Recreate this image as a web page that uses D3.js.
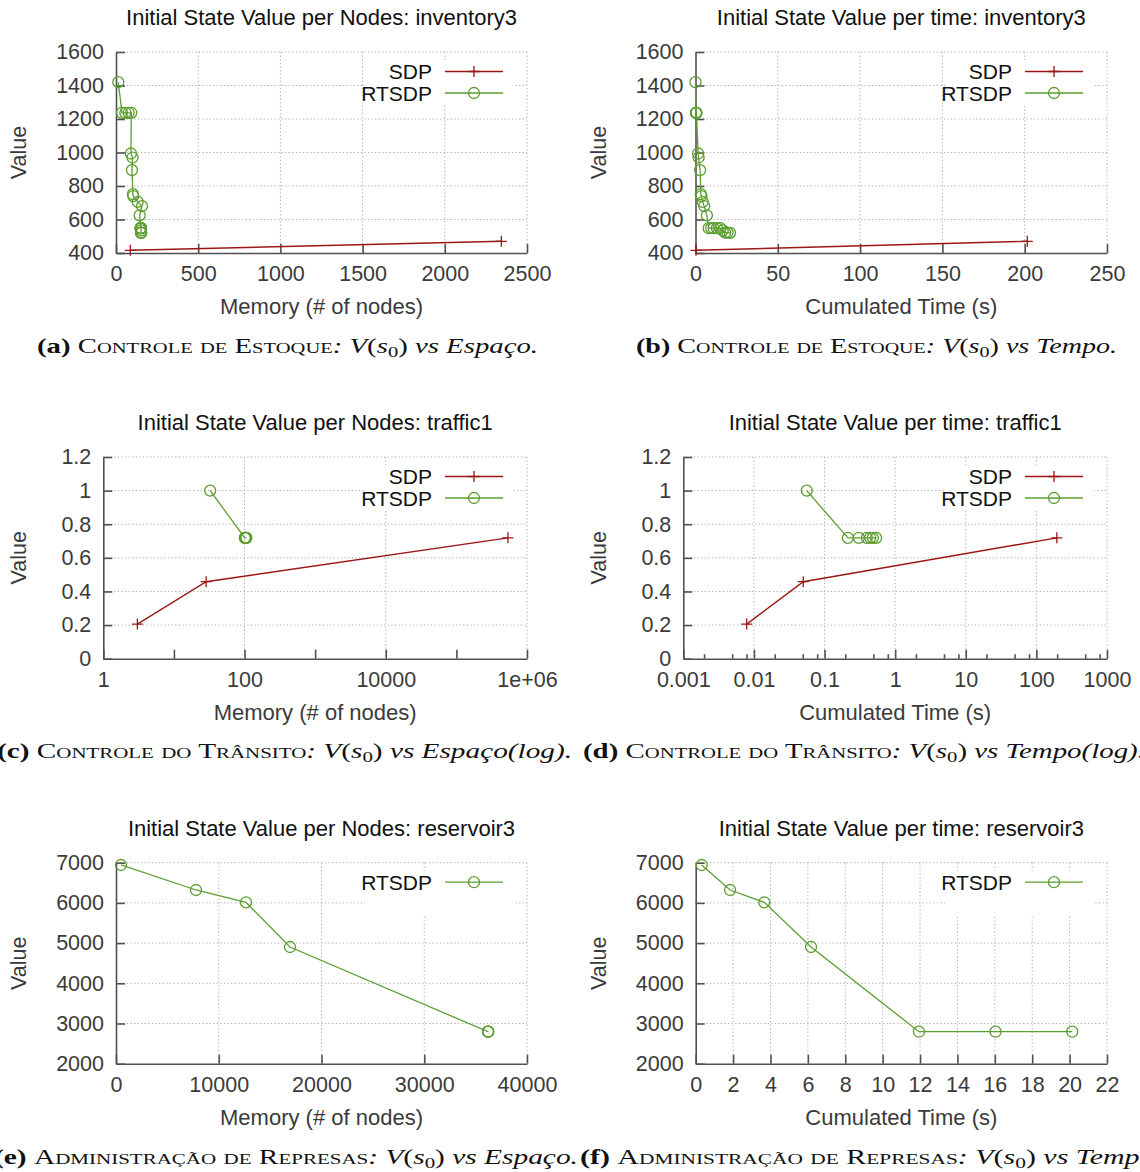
<!DOCTYPE html>
<html>
<head>
<meta charset="utf-8">
<script src="https://cdnjs.cloudflare.com/ajax/libs/d3/7.8.5/d3.min.js"></script>
<style>
  body { margin: 0; background: #fff; }
  svg text { font-family: "Liberation Sans", Arial, Helvetica, sans-serif; }
  .grid { stroke: #a8a8a8; stroke-width: 1; stroke-dasharray: 1.2,2.4; }
  .axis path, .axis line { stroke: #505050; stroke-width: 1.6; }
  .axis text { fill: #3a3a3a; font-size: 21.5px; font-family: "Liberation Sans", Arial, sans-serif; }
  .cap { font-family: "Liberation Serif", "Times New Roman", serif; font-size: 21px; fill: #111; }
</style>
</head>
<body>
<div id="fig"></div>
<script>
// ---- inventory3 ----
var invRtsdpValue = [1420, 1237, 1237, 1237, 1237, 994, 970, 895, 751, 740, 705, 680, 625, 548, 548, 548, 548, 548, 535, 522, 522, 520];
var invRtsdpNodes = [14, 36, 57, 77, 93, 91, 101, 97, 103, 105, 132, 158, 144, 150, 150, 151, 151, 152, 152, 152, 153, 153];
var invRtsdpTime  = [0, 0.3, 0.4, 0.5, 0.6, 1.6, 1.9, 2.8, 3.2, 3.6, 4.4, 5.3, 6.9, 8.0, 9.5, 11, 13, 15, 16.5, 18, 19.5, 21];
var invSdpValue = [416, 470];
var invSdpNodes = [87, 2344];
var invSdpTime  = [0.3, 201.6];

// ---- traffic1 ----
var trafRtsdpValue = [1.0, 0.719, 0.719, 0.719, 0.719, 0.719, 0.719];
var trafRtsdpNodes = [32.6, 101, 102, 103, 104, 105, 106];
var trafRtsdpTime  = [0.056, 0.214, 0.306, 0.397, 0.443, 0.483, 0.538];
var trafSdpValue = [0.206, 0.458, 0.719];
var trafSdpNodes = [3.04, 28.6, 537000];
var trafSdpTime  = [0.0079, 0.050, 195];

// ---- reservoir3 ----
var resRtsdpValue = [6943, 6321, 6015, 4903, 2796, 2796, 2796];
var resRtsdpNodes = [487, 7786, 12652, 16934, 36204, 36220, 36235];
var resRtsdpTime  = [0.32, 1.84, 3.67, 6.17, 11.94, 16.04, 20.14];

// ---- ticks ----
var invValueTicks = [400, 600, 800, 1000, 1200, 1400, 1600];
var invNodeTicks  = [0, 500, 1000, 1500, 2000, 2500];
var invTimeTicks  = [0, 50, 100, 150, 200, 250];
var trafValueTicks  = [0, 0.2, 0.4, 0.6, 0.8, 1, 1.2];
var trafValueLabels = ["0", "0.2", "0.4", "0.6", "0.8", "1", "1.2"];
var trafNodeTicks   = [1, 10, 100, 1000, 10000, 100000, 1000000];
var trafNodeLabels  = ["1", "", "100", "", "10000", "", "1e+06"];
var trafNodeGrid    = [100, 10000, 1000000];
var trafTimeTicks   = [0.001, 0.01, 0.1, 1, 10, 100, 1000];
var trafTimeLabels  = ["0.001", "0.01", "0.1", "1", "10", "100", "1000"];
var trafTimeMinor   = [2, 5, 8];
var resValueTicks = [2000, 3000, 4000, 5000, 6000, 7000];
var resNodeTicks  = [0, 10000, 20000, 30000, 40000];
var resTimeTicks  = [0, 2, 4, 6, 8, 10, 12, 14, 16, 18, 20, 22];

var titles = [
  "Initial State Value per Nodes: inventory3", "Initial State Value per time: inventory3",
  "Initial State Value per Nodes: traffic1", "Initial State Value per time: traffic1",
  "Initial State Value per Nodes: reservoir3", "Initial State Value per time: reservoir3"
];
var xLabels = ["Memory (# of nodes)", "Cumulated Time (s)"];

var green = "#5c9e30", red = "#9c1616";

var svg = d3.select("#fig").append("svg")
  .attr("width", 1140).attr("height", 1172);

function zip(xs, ys) { return xs.map(function(d, i) { return [d, ys[i]]; }); }

var panels = [
  { col: 0, left: 116, right: 527, top: 52, bottom: 253, title: titles[0], xLabel: xLabels[0],
    xDomain: [0, 2500], xTicks: invNodeTicks, yDomain: [400, 1600], yTicks: invValueTicks,
    sdp: zip(invSdpNodes, invSdpValue), rtsdp: zip(invRtsdpNodes, invRtsdpValue) },
  { col: 1, left: 695.5, right: 1107, top: 52, bottom: 253, title: titles[1], xLabel: xLabels[1],
    xDomain: [0, 250], xTicks: invTimeTicks, yDomain: [400, 1600], yTicks: invValueTicks,
    sdp: zip(invSdpTime, invSdpValue), rtsdp: zip(invRtsdpTime, invRtsdpValue) },
  { col: 0, left: 103.3, right: 527, top: 457, bottom: 658.7, title: titles[2], xLabel: xLabels[0],
    log: true, xDomain: [1, 1e6], xTicks: trafNodeTicks, xTickLabels: trafNodeLabels, xGrid: trafNodeGrid,
    yDomain: [0, 1.2], yTicks: trafValueTicks, yTickLabels: trafValueLabels,
    sdp: zip(trafSdpNodes, trafSdpValue), rtsdp: zip(trafRtsdpNodes, trafRtsdpValue) },
  { col: 1, left: 683.3, right: 1107, top: 457, bottom: 658.7, title: titles[3], xLabel: xLabels[1],
    log: true, xDomain: [0.001, 1000], xTicks: trafTimeTicks, xTickLabels: trafTimeLabels, minor: trafTimeMinor,
    yDomain: [0, 1.2], yTicks: trafValueTicks, yTickLabels: trafValueLabels,
    sdp: zip(trafSdpTime, trafSdpValue), rtsdp: zip(trafRtsdpTime, trafRtsdpValue) },
  { col: 0, left: 116, right: 527, top: 862.7, bottom: 1063.7, title: titles[4], xLabel: xLabels[0],
    xDomain: [0, 40000], xTicks: resNodeTicks, yDomain: [2000, 7000], yTicks: resValueTicks,
    rtsdp: zip(resRtsdpNodes, resRtsdpValue) },
  { col: 1, left: 695.7, right: 1107, top: 862.7, bottom: 1063.7, title: titles[5], xLabel: xLabels[1],
    xDomain: [0, 22], xTicks: resTimeTicks, yDomain: [2000, 7000], yTicks: resValueTicks,
    rtsdp: zip(resRtsdpTime, resRtsdpValue) }
];

var crossPath = "M-5.5,0H5.5M0,-5.5V5.5";

panels.forEach(function(p) {
  var g = svg.append("g");
  var x = (p.log ? d3.scaleLog() : d3.scaleLinear()).domain(p.xDomain).range([p.left, p.right]);
  var y = d3.scaleLinear().domain(p.yDomain).range([p.bottom, p.top]);

  // grid
  var xGrid = p.xGrid || p.xTicks;
  g.selectAll("line.gx").data(xGrid.filter(function(d) { return d !== p.xDomain[0]; })).enter()
    .append("line").attr("class", "grid")
    .attr("x1", function(d) { return x(d); }).attr("x2", function(d) { return x(d); })
    .attr("y1", p.top).attr("y2", p.bottom);
  g.selectAll("line.gy").data(p.yTicks.filter(function(d) { return d !== p.yDomain[0]; })).enter()
    .append("line").attr("class", "grid")
    .attr("x1", p.left).attr("x2", p.right)
    .attr("y1", function(d) { return y(d); }).attr("y2", function(d) { return y(d); });

  // key box hides the grid behind it
  var rows = p.sdp ? [["SDP", red, "cross"], ["RTSDP", green, "circle"]] : [["RTSDP", green, "circle"]];
  g.append("rect")
    .attr("x", p.right - 162).attr("y", p.top + 8)
    .attr("width", 149).attr("height", 44)
    .attr("fill", "#fff");

  // axes
  var xAxis = d3.axisBottom(x).tickValues(p.xTicks).tickSize(-9).tickSizeOuter(0).tickPadding(13);
  if (p.xTickLabels) xAxis.tickFormat(function(d, i) { return p.xTickLabels[i]; });
  else xAxis.tickFormat(function(d) { return String(d); });
  var gx = g.append("g").attr("class", "axis")
    .attr("transform", "translate(0," + p.bottom + ")").call(xAxis);

  if (p.minor) {
    var minors = [];
    p.xTicks.slice(0, -1).forEach(function(t) {
      p.minor.forEach(function(m) { minors.push(t * m); });
    });
    gx.selectAll("line.minor").data(minors).enter().append("line")
      .attr("class", "minor")
      .attr("x1", function(d) { return x(d); }).attr("x2", function(d) { return x(d); })
      .attr("y1", 0).attr("y2", -4.5);
  }

  var yAxis = d3.axisLeft(y).tickValues(p.yTicks).tickSize(-9).tickSizeOuter(0).tickPadding(12);
  if (p.yTickLabels) yAxis.tickFormat(function(d, i) { return p.yTickLabels[i]; });
  else yAxis.tickFormat(function(d) { return String(d); });
  g.append("g").attr("class", "axis")
    .attr("transform", "translate(" + p.left + ",0)").call(yAxis);

  // series
  var line = d3.line().x(function(d) { return x(d[0]); }).y(function(d) { return y(d[1]); });
  if (p.sdp) {
    g.append("path").datum(p.sdp).attr("d", line)
      .attr("fill", "none").attr("stroke", red).attr("stroke-width", 1.4);
    g.selectAll("path.sdpm").data(p.sdp).enter().append("path")
      .attr("class", "sdpm").attr("d", crossPath)
      .attr("transform", function(d) { return "translate(" + x(d[0]) + "," + y(d[1]) + ")"; })
      .attr("stroke", red).attr("stroke-width", 1.3).attr("fill", "none");
  }
  g.append("path").datum(p.rtsdp).attr("d", line)
    .attr("fill", "none").attr("stroke", green).attr("stroke-width", 1.3);
  g.selectAll("circle.rt").data(p.rtsdp).enter().append("circle")
    .attr("class", "rt")
    .attr("cx", function(d) { return x(d[0]); }).attr("cy", function(d) { return y(d[1]); })
    .attr("r", 5.5).attr("fill", "none").attr("stroke", green).attr("stroke-width", 1.3);

  // key
  rows.forEach(function(r, i) {
    var ky = p.top + 19.5 + i * 21.5;
    g.append("text").attr("x", p.right - 95).attr("y", ky).attr("dy", "0.36em")
      .attr("text-anchor", "end").attr("font-size", "21px").attr("fill", "#111").text(r[0]);
    g.append("line").attr("x1", p.right - 82).attr("x2", p.right - 24)
      .attr("y1", ky).attr("y2", ky).attr("stroke", r[1]).attr("stroke-width", 1.3);
    if (r[2] === "cross") {
      g.append("path").attr("d", crossPath).attr("transform", "translate(" + (p.right - 53) + "," + ky + ")")
        .attr("stroke", r[1]).attr("stroke-width", 1.3);
    } else {
      g.append("circle").attr("cx", p.right - 53).attr("cy", ky).attr("r", 5.5)
        .attr("fill", "none").attr("stroke", r[1]).attr("stroke-width", 1.3);
    }
  });

  // labels
  g.append("text").attr("x", (p.left + p.right) / 2).attr("y", p.top - 27)
    .attr("text-anchor", "middle").attr("font-size", "22px").attr("fill", "#111").text(p.title);
  g.append("text").attr("x", (p.left + p.right) / 2).attr("y", p.bottom + 61)
    .attr("text-anchor", "middle").attr("font-size", "22px").attr("fill", "#3a3a3a").text(p.xLabel);
  var vx = p.col * 580 + 18, vy = (p.top + p.bottom) / 2;
  g.append("text").attr("transform", "translate(" + vx + "," + vy + ") rotate(-90)")
    .attr("dy", "0.36em").attr("text-anchor", "middle").attr("font-size", "21.5px")
    .attr("fill", "#3a3a3a").text("Value");
});

// ---- captions ----
var capTags  = ["(a)", "(b)", "(c)", "(d)", "(e)", "(f)"];
var capNames = ["Controle de Estoque", "Controle de Estoque", "Controle do Trânsito",
                "Controle do Trânsito", "Administração de Represas", "Administração de Represas"];
var capVs    = ["Espaço.", "Tempo.", "Espaço(log).", "Tempo(log).", "Espaço.", "Tempo."];
var capPos = [[37, 353, 501], [636, 353, 481], [-3, 758, 575], [583, 758, 562], [-6, 1164, 584], [580, 1164, 582]];

capTags.forEach(function(tag, i) {
  var t = svg.append("text").attr("class", "cap")
    .attr("x", capPos[i][0]).attr("y", capPos[i][1])
    .attr("textLength", capPos[i][2]).attr("lengthAdjust", "spacingAndGlyphs");
  t.append("tspan").attr("font-weight", "bold").text(tag + " ");
  t.append("tspan").style("font-variant", "small-caps").text(capNames[i]);
  t.append("tspan").attr("font-style", "italic").text(": V");
  t.append("tspan").text("(");
  t.append("tspan").attr("font-style", "italic").text("s");
  t.append("tspan").attr("font-size", "15px").attr("dy", 4).text("0");
  t.append("tspan").attr("dy", -4).text(")");
  t.append("tspan").attr("font-style", "italic").text(" vs " + capVs[i]);
});
</script>
</body>
</html>
